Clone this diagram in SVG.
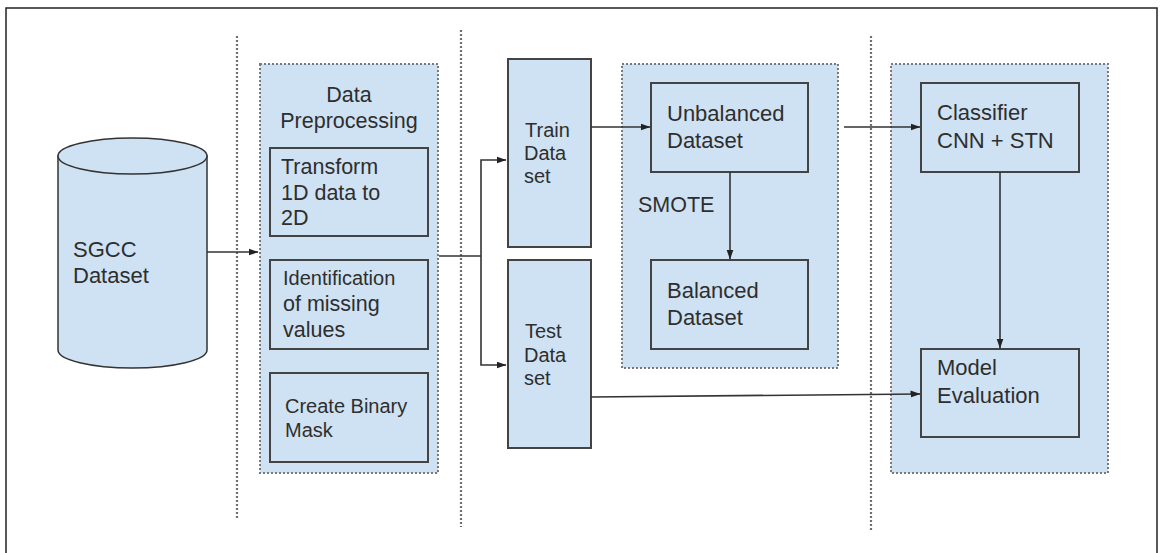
<svg xmlns="http://www.w3.org/2000/svg" width="1160" height="553" viewBox="0 0 1160 553">
  <style>
    .frame { fill: #ffffff; stroke: #222222; stroke-width: 1.5; }
    .sep { stroke: #6f6f6f; stroke-width: 2.2; stroke-dasharray: 2 2; fill: none; }
    .group { fill: #cfe2f3; stroke: #7a7a7a; stroke-width: 2; stroke-dasharray: 2 2; }
    .box { fill: #cfe2f3; stroke: #434343; stroke-width: 2; }
    .db { fill: #cfe2f3; stroke: #333333; stroke-width: 1.5; }
    .edge { fill: none; stroke: #333333; stroke-width: 1.6; }
    text { font-family: "Liberation Sans", Arial, sans-serif; fill: #2e2e2e; }
  </style>
  <defs>
    <marker id="arrow" markerWidth="10" markerHeight="8" refX="9.5" refY="4" orient="auto" markerUnits="userSpaceOnUse">
      <path d="M0,0.5 L10,4 L0,7.5 Z" fill="#222222"/>
    </marker>
  </defs>

  <!-- page frame -->
  <rect class="frame" x="6" y="8" width="1151" height="560"/>

  <!-- stage separators -->
  <line class="sep" x1="237" y1="36" x2="237" y2="518"/>
  <line class="sep" x1="461" y1="30" x2="461" y2="527"/>
  <line class="sep" x1="871" y1="36" x2="871" y2="532"/>

  <!-- stage containers -->
  <g id="preprocessing-group">
    <rect class="group" x="260" y="64" width="178" height="409"/>
    <text x="349" y="102" font-size="21.5" text-anchor="middle">Data</text>
    <text x="349" y="128" font-size="21.5" text-anchor="middle">Preprocessing</text>
  </g>
  <g id="balancing-group">
    <rect class="group" x="622" y="64" width="216" height="304"/>
    <text x="638" y="212" font-size="21.5">SMOTE</text>
  </g>
  <g id="model-group">
    <rect class="group" x="891" y="64" width="217" height="409"/>
  </g>

  <!-- dataset source -->
  <g id="sgcc-dataset">
    <path class="db" d="M58,156 L58,350 A74.5,18 0 0 0 207,350 L207,156 Z"/>
    <ellipse class="db" cx="132.5" cy="156" rx="74.5" ry="18"/>
    <text x="73" y="257" font-size="22">SGCC</text>
    <text x="73" y="283" font-size="22">Dataset</text>
  </g>

  <!-- preprocessing steps -->
  <g id="transform">
    <rect class="box" x="270" y="148" width="158" height="88"/>
    <text x="281" y="174" font-size="21.5">Transform</text>
    <text x="281" y="200" font-size="21.5">1D data to</text>
    <text x="281" y="225" font-size="21.5">2D</text>
  </g>
  <g id="missing-values">
    <rect class="box" x="270" y="260" width="158" height="89"/>
    <text x="283" y="285" font-size="20">Identification</text>
    <text x="283" y="311" font-size="21.5">of missing</text>
    <text x="283" y="337" font-size="21.5">values</text>
  </g>
  <g id="binary-mask">
    <rect class="box" x="270" y="373" width="158" height="89"/>
    <text x="285" y="413" font-size="20">Create Binary</text>
    <text x="285" y="437" font-size="20">Mask</text>
  </g>

  <!-- data split -->
  <g id="train-set">
    <rect class="box" x="508" y="59" width="83" height="188"/>
    <text x="525" y="137" font-size="20">Train</text>
    <text x="524" y="160" font-size="20">Data</text>
    <text x="524" y="183" font-size="20">set</text>
  </g>
  <g id="test-set">
    <rect class="box" x="508" y="260" width="83" height="188"/>
    <text x="525" y="338" font-size="20">Test</text>
    <text x="524" y="362" font-size="20">Data</text>
    <text x="524" y="385" font-size="20">set</text>
  </g>

  <!-- balancing -->
  <g id="unbalanced">
    <rect class="box" x="651" y="83" width="157" height="89"/>
    <text x="667" y="121" font-size="22">Unbalanced</text>
    <text x="667" y="148" font-size="22">Dataset</text>
  </g>
  <g id="balanced">
    <rect class="box" x="651" y="260" width="157" height="89"/>
    <text x="667" y="298" font-size="22">Balanced</text>
    <text x="667" y="325" font-size="22">Dataset</text>
  </g>

  <!-- model -->
  <g id="classifier">
    <rect class="box" x="921" y="83" width="158" height="89"/>
    <text x="937" y="120" font-size="22">Classifier</text>
    <text x="937" y="148" font-size="22">CNN + STN</text>
  </g>
  <g id="evaluation">
    <rect class="box" x="921" y="349" width="158" height="88"/>
    <text x="937" y="375" font-size="22">Model</text>
    <text x="937" y="403" font-size="22">Evaluation</text>
  </g>

  <!-- connectors -->
  <g id="connectors">
    <line class="edge" x1="207" y1="252" x2="258" y2="252" marker-end="url(#arrow)"/>
    <polyline class="edge" points="439,256 481,256"/>
    <polyline class="edge" points="481,256 481,160 506,160" marker-end="url(#arrow)"/>
    <polyline class="edge" points="481,256 481,365 506,365" marker-end="url(#arrow)"/>
    <line class="edge" x1="591" y1="127" x2="650" y2="127" marker-end="url(#arrow)"/>
    <line class="edge" x1="730" y1="172" x2="730" y2="259" marker-end="url(#arrow)"/>
    <line class="edge" x1="844" y1="127" x2="920" y2="127" marker-end="url(#arrow)"/>
    <line class="edge" x1="1000" y1="172" x2="1000" y2="348" marker-end="url(#arrow)"/>
    <line class="edge" x1="591" y1="397" x2="920" y2="394" marker-end="url(#arrow)"/>
  </g>
</svg>
